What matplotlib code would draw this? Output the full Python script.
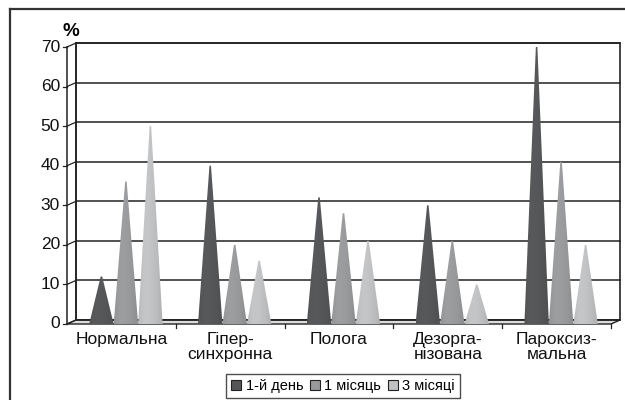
import numpy as np
import matplotlib
matplotlib.use('Agg')
from matplotlib import pyplot as plt
from matplotlib.patches import Polygon, Patch
from matplotlib.lines import Line2D

plt.rcParams['font.family'] = ['Liberation Sans', 'DejaVu Sans']

# дані
categories = ['Нормальна', 'Гіпер-\nсинхронна', 'Полога', 'Дезорга-\nнізована', 'Пароксиз-\nмальна']
series_names = ['1-й день', '1 місяць', '3 місяці']
day1 = [12, 40, 32, 30, 70]
month1 = [36, 20, 28, 21, 41]
month3 = [50, 16, 21, 10, 20]
series = [day1, month1, month3]
colors = ['#555658', '#98999b', '#bfc0c2']
yticks = [0, 10, 20, 30, 40, 50, 60, 70]

fig = plt.figure(figsize=(6.25, 4), dpi=100)
ax = fig.add_axes([67 / 625, 76 / 400, 544 / 625, 277 / 400])
ax.set_xlim(0, 5)
ax.set_ylim(0, 70)
ax.axis('off')

# псевдо-3D глибина (в одиницях даних)
ddx = 9 / 108.8
ddy = 4 / 3.957
n = len(categories)
ymax = 70

# рамка навколо діаграми
fig.add_artist(Line2D([10 / 625, 10 / 625], [0, 1 - 9 / 400], transform=fig.transFigure,
                      color='#333333', lw=1.6))
fig.add_artist(Line2D([10 / 625, 1], [1 - 9 / 400, 1 - 9 / 400], transform=fig.transFigure,
                      color='#333333', lw=1.6))

# задня стінка
ax.add_patch(Polygon([(ddx, ddy), (n + ddx, ddy), (n + ddx, ymax + ddy), (ddx, ymax + ddy)],
                     closed=True, facecolor='white', edgecolor='#222222', lw=1.2, clip_on=False))
# сітка на задній і боковій стінці
for t in yticks:
    ax.plot([ddx, n + ddx], [t + ddy, t + ddy], color='#222222', lw=1.1, clip_on=False)
    ax.plot([0, ddx], [t, t + ddy], color='#222222', lw=0.9, clip_on=False)
    ax.plot([-0.035, 0], [t, t], color='#222222', lw=0.9, clip_on=False)
    ax.text(-0.065, t, str(t), ha='right', va='center', fontsize=12.5, color='#111111')

# бічна стінка
ax.plot([0, 0], [0, ymax], color='#222222', lw=1.1, clip_on=False)
ax.plot([ddx, ddx], [0 + ddy, ymax + ddy], color='#222222', lw=1.1, clip_on=False)

# підлога
ax.add_patch(Polygon([(0, 0), (n, 0), (n + ddx, ddy), (ddx, ddy)], closed=True,
                     facecolor='#dcdcdc', edgecolor='#222222', lw=1.0, clip_on=False))
for i in range(1, n + 1):
    ax.plot([i, i], [0, -1.0], color='#222222', lw=0.9, clip_on=False)

# конуси
offsets = [-0.225, 0.0, 0.225]
half_w = 0.1125
tip_w = 0.007
grad = np.array([0.96, 1.0, 1.03, 1.03, 1.02, 1.0, 0.98, 0.95, 0.92])
grad = np.interp(np.linspace(0, 1, 64), np.linspace(0, 1, len(grad)), grad)
for s, vals in enumerate(series):
    base = np.array(matplotlib.colors.to_rgb(colors[s]))
    img = np.clip(grad[None, :, None] * base[None, None, :], 0, 1)
    for i, v in enumerate(vals):
        cx = i + 0.5 + offsets[s] + ddx / 2
        tri = Polygon([(cx - half_w, 0), (cx + half_w, 0), (cx + tip_w, v), (cx - tip_w, v)],
                      closed=True, facecolor='none', edgecolor='none')
        ax.add_patch(tri)
        im = ax.imshow(img, extent=(cx - half_w, cx + half_w, 0, v),
                       aspect='auto', interpolation='bilinear', zorder=3)
        im.set_clip_path(tri)

ax.set_xlim(0, 5)
ax.set_ylim(0, 70)

# підписи категорій
for i, c in enumerate(categories):
    ax.text(i + 0.5, -2.0, c, ha='center', va='top', fontsize=12.5, linespacing=1.0,
            color='#111111')

ax.text(0.037, 72.8, '%', ha='center', va='baseline', fontsize=13.5, fontweight='bold')

handles = [Patch(facecolor=colors[k], edgecolor='#222222', lw=0.8) for k in range(3)]
leg = fig.legend(handles, series_names, loc='lower center', bbox_to_anchor=(343 / 625, 2 / 400),
                 ncol=3, fontsize=10.5, frameon=True, fancybox=False, handlelength=0.7,
                 handleheight=0.7, handletextpad=0.3, columnspacing=0.45, borderpad=0.35,
                 borderaxespad=0)
leg.get_frame().set_edgecolor('#222222')
leg.get_frame().set_linewidth(1.0)

fig.savefig('out.png', dpi=100)
